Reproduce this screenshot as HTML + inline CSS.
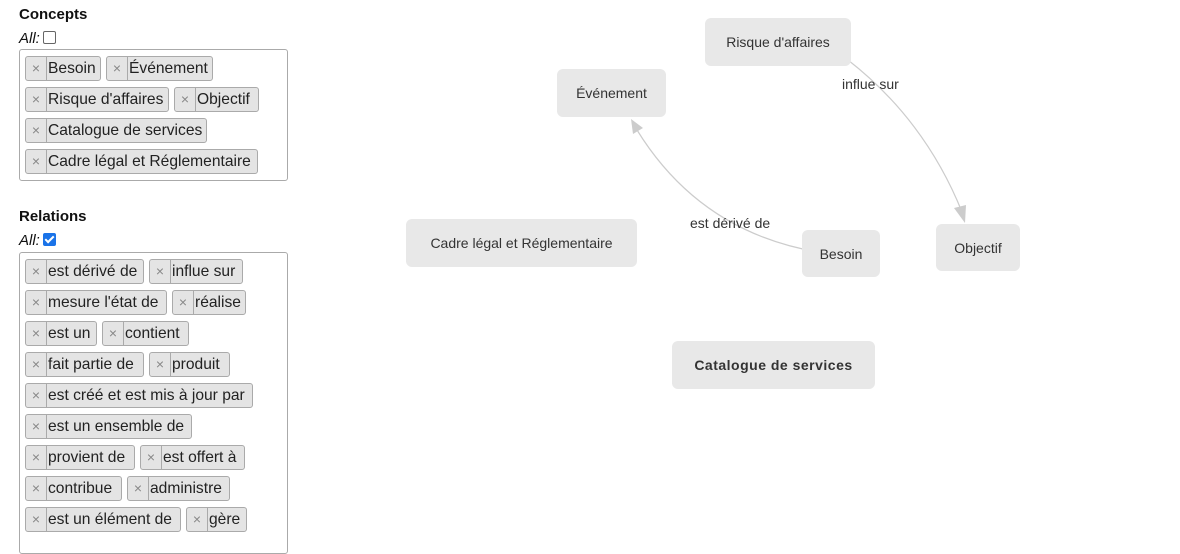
<!DOCTYPE html>
<html><head><meta charset="utf-8"><style>
body{margin:0;width:1180px;height:520px;overflow:hidden;background:#fff;font-family:"Liberation Sans",sans-serif;position:relative}
.h{position:absolute;left:19px;font-weight:bold;font-size:15px;color:#111}
.all{position:absolute;left:19px;font-style:italic;font-size:15px;color:#111}
.cb{display:inline-block;width:11px;height:11px;border:1px solid #666;border-radius:2px;vertical-align:-1px;margin-left:3px}
.cb.on{background:#1a73e8;border-color:#1a73e8;position:relative}
.cb.on:after{content:"";position:absolute;left:3px;top:0px;width:3px;height:7px;border:solid #fff;border-width:0 2px 2px 0;transform:rotate(45deg)}
.box{position:absolute;left:19px;width:267px;border:1px solid #aaa;border-radius:3px}
.t{position:absolute;height:25px;border:1px solid #aaa;border-radius:3px;background:#e4e4e4;font-size:15.6px;line-height:24px;color:#222;box-sizing:border-box;padding-left:22px;padding-right:4px;white-space:nowrap}
.t:before{content:"×";position:absolute;left:0;top:0;width:20px;text-align:center;color:#888;font-size:14px;line-height:23px;border-right:1px solid #aaa;height:23px}
.n{position:absolute;background:#e8e8e8;border-radius:6px;font-size:14px;color:#333;display:flex;align-items:center;justify-content:center}
.l{position:absolute;font-size:14px;color:#333}
</style></head><body>
<div class="h" style="top:6px">Concepts</div>
<div class="all" style="top:30px">All:<span class="cb"></span></div>
<div class="box" style="top:49px;height:130px"></div>
<div class="t" style="left:25px;top:56px;width:76px">Besoin</div>
<div class="t" style="left:106px;top:56px;width:107px">Événement</div>
<div class="t" style="left:25px;top:87px;width:144px">Risque d'affaires</div>
<div class="t" style="left:174px;top:87px;width:85px">Objectif</div>
<div class="t" style="left:25px;top:118px;width:182px">Catalogue de services</div>
<div class="t" style="left:25px;top:149px;width:233px">Cadre légal et Réglementaire</div>

<div class="h" style="top:208px">Relations</div>
<div class="all" style="top:232px">All:<span class="cb on"></span></div>
<div class="box" style="top:252px;height:300px"></div>
<div class="t" style="left:25px;top:259px;width:119px">est dérivé de</div>
<div class="t" style="left:149px;top:259px;width:94px">influe sur</div>
<div class="t" style="left:25px;top:290px;width:142px">mesure l'état de</div>
<div class="t" style="left:172px;top:290px;width:74px">réalise</div>
<div class="t" style="left:25px;top:321px;width:72px">est un</div>
<div class="t" style="left:102px;top:321px;width:87px">contient</div>
<div class="t" style="left:25px;top:352px;width:119px">fait partie de</div>
<div class="t" style="left:149px;top:352px;width:81px">produit</div>
<div class="t" style="left:25px;top:383px;width:228px">est créé et est mis à jour par</div>
<div class="t" style="left:25px;top:414px;width:167px">est un ensemble de</div>
<div class="t" style="left:25px;top:445px;width:110px">provient de</div>
<div class="t" style="left:140px;top:445px;width:105px">est offert à</div>
<div class="t" style="left:25px;top:476px;width:97px">contribue</div>
<div class="t" style="left:127px;top:476px;width:103px">administre</div>
<div class="t" style="left:25px;top:507px;width:156px">est un élément de</div>
<div class="t" style="left:186px;top:507px;width:61px">gère</div>

<svg style="position:absolute;left:0;top:0" width="1180" height="520">
<path d="M848 60 Q925 120 962 212" fill="none" stroke="#ccc" stroke-width="1.2"/>
<polygon points="965,223 954,208 966,205" fill="#ccc"/>
<path d="M818 252 Q700 232 637 130" fill="none" stroke="#ccc" stroke-width="1.2"/>
<polygon points="631,119 643,128 633,134" fill="#ccc"/>
</svg>
<div class="n" style="left:705px;top:18px;width:146px;height:48px">Risque d'affaires</div>
<div class="n" style="left:557px;top:69px;width:109px;height:48px">Événement</div>
<div class="n" style="left:406px;top:219px;width:231px;height:48px">Cadre légal et Réglementaire</div>
<div class="n" style="left:802px;top:230px;width:78px;height:47px">Besoin</div>
<div class="n" style="left:936px;top:224px;width:84px;height:47px">Objectif</div>
<div class="n" style="left:672px;top:341px;width:203px;height:48px;font-weight:bold;letter-spacing:0.5px">Catalogue de services</div>
<div class="l" style="left:842px;top:76px">influe sur</div>
<div class="l" style="left:690px;top:215px">est dérivé de</div>
</body></html>
